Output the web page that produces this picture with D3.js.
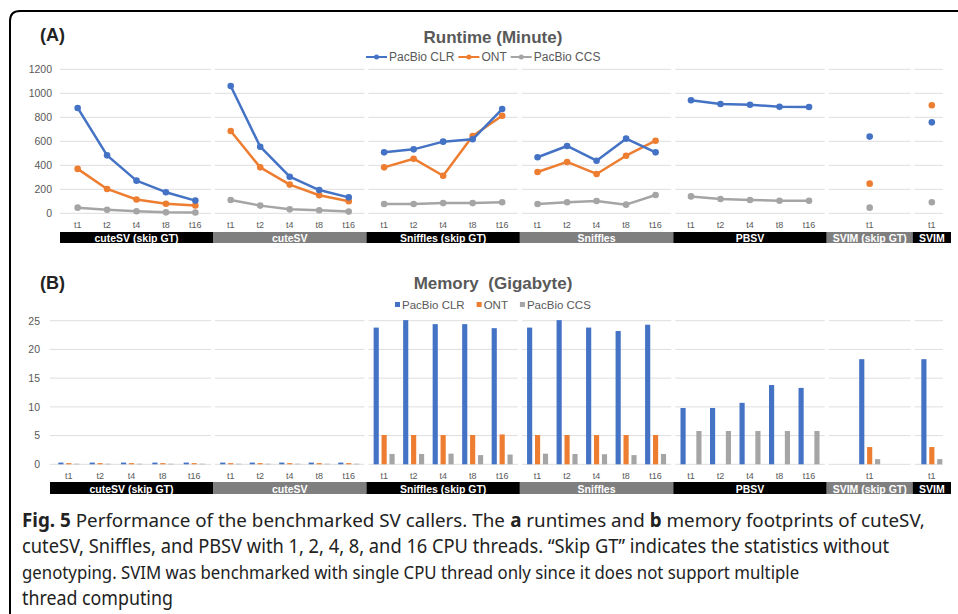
<!DOCTYPE html>
<html>
<head>
<meta charset="UTF-8">
<script src="https://cdn.jsdelivr.net/npm/d3@7"></script>
<style>
  body { margin: 0; background: #fff; }
  svg text { font-family: "Liberation Sans", Arial, sans-serif; }
  .caption text { font-family: "Noto Sans", sans-serif; fill: #222; }
</style>
</head>
<body>
<svg id="chart" width="958" height="614"></svg>
<script>
// categories
var groups = ["cuteSV (skip GT)", "cuteSV", "Sniffles (skip GT)", "Sniffles", "PBSV", "SVIM (skip GT)", "SVIM"];
var threads = [
  ["t1", "t2", "t4", "t8", "t16"],
  ["t1", "t2", "t4", "t8", "t16"],
  ["t1", "t2", "t4", "t8", "t16"],
  ["t1", "t2", "t4", "t8", "t16"],
  ["t1", "t2", "t4", "t8", "t16"],
  ["t1"],
  ["t1"]
];
var seriesNames = ["PacBio CLR", "ONT", "PacBio CCS"];

// runtime in minutes (null = not run)
var runtimeCLR = [[878, 483, 272, 176, 106], [1061, 555, 305, 194, 133], [508, 533, 597, 617, 869], [467, 561, 438, 622, 508], [942, 911, 905, 888, 886], [639], [758]];
var runtimeONT = [[370, 203, 115, 79, 65], [686, 383, 239, 150, 100], [383, 455, 313, 644, 813], [344, 428, 328, 480, 605], [null, null, null, null, null], [247], [900]];
var runtimeCCS = [[47, 30, 17, 8, 7], [111, 64, 33, 25, 14], [78, 78, 85, 85, 92], [78, 92, 103, 72, 153], [141, 119, 111, 105, 105], [47], [92]];

// memory in gigabytes
var memoryCLR = [[0.3, 0.3, 0.3, 0.3, 0.3], [0.3, 0.3, 0.3, 0.3, 0.3], [23.8, 25.1, 24.4, 24.4, 23.7], [23.8, 25.1, 23.8, 23.2, 24.3], [9.8, 9.8, 10.7, 13.8, 13.3], [18.3], [18.3]];
var memoryONT = [[0.2, 0.2, 0.2, 0.2, 0.2], [0.2, 0.2, 0.2, 0.2, 0.2], [5.1, 5.1, 5.1, 5.1, 5.2], [5.1, 5.1, 5.1, 5.1, 5.1], [null, null, null, null, null], [3.0], [3.0]];
var memoryCCS = [[0.1, 0.1, 0.1, 0.1, 0.1], [0.1, 0.1, 0.1, 0.1, 0.1], [1.8, 1.8, 1.85, 1.6, 1.7], [1.85, 1.8, 1.75, 1.6, 1.8], [5.8, 5.8, 5.8, 5.8, 5.8], [0.9], [0.9]];

var runtimeTicks = [0, 200, 400, 600, 800, 1000, 1200];
var memoryTicks = [0, 5, 10, 15, 20, 25];

var colors = {"PacBio CLR": "#4472C4", "ONT": "#ED7D31", "PacBio CCS": "#A5A5A5"};
var groupWeights = [5, 5, 5, 5, 5, 2.8, 1.25];
var groupFill = ["#000", "#7f7f7f", "#000", "#7f7f7f", "#000", "#7f7f7f", "#000"];

var svg = d3.select("#chart");

// outer frame with rounded top-left corner
svg.append("path")
  .attr("d", "M10,620 L10,21 Q10,11 20,11 L960,11")
  .attr("fill", "none").attr("stroke", "#000").attr("stroke-width", 2);

// edges of each group, the first group starts where the y axis ends
function groupEdges(left) {
  var rest = groupWeights.slice(1);
  var x = d3.scaleLinear().domain([0, d3.sum(rest)]).range([213, 951]);
  var edges = [left, 213], acc = 0;
  rest.forEach(function(w) { acc += w; edges.push(x(acc)); });
  return edges;
}

function pointScales(edges) {
  return groups.map(function(g, i) {
    return d3.scalePoint().domain(threads[i]).range([edges[i], edges[i + 1]]).padding(0.6);
  });
}

function drawFrame(opt) {
  var g = svg.append("g");
  var edges = opt.edges;

  // gridlines per group
  groups.forEach(function(name, i) {
    g.selectAll(null).data(opt.ticks).enter().append("line")
      .attr("x1", edges[i] + (i ? 2 : 0)).attr("x2", edges[i + 1] - (i === groups.length - 1 ? 8 : 2))
      .attr("y1", function(d) { return opt.y(d); }).attr("y2", function(d) { return opt.y(d); })
      .attr("stroke", "#dedede").attr("stroke-width", 1);
  });

  // y axis labels
  var ax = g.append("g")
    .attr("transform", "translate(" + opt.axisX + ",0)")
    .call(d3.axisLeft(opt.y).tickValues(opt.ticks).tickFormat(d3.format("d")).tickSize(0).tickPadding(3));
  ax.select(".domain").remove();
  ax.selectAll("text").attr("font-size", 10.5).attr("fill", "#595959")
    .attr("font-family", "Liberation Sans, Arial, sans-serif");

  // thread labels
  groups.forEach(function(name, i) {
    g.selectAll(null).data(threads[i]).enter().append("text")
      .attr("x", function(t) { return opt.px[i](t); })
      .attr("y", opt.tickY)
      .attr("text-anchor", "middle").attr("dominant-baseline", "central")
      .attr("font-size", 9).attr("fill", "#595959")
      .text(function(t) { return t; });
  });

  // group label bars
  groups.forEach(function(name, i) {
    g.append("rect")
      .attr("x", edges[i]).attr("y", opt.barY)
      .attr("width", edges[i + 1] - edges[i]).attr("height", opt.barH)
      .attr("fill", groupFill[i]);
    g.append("text")
      .attr("x", (edges[i] + edges[i + 1]) / 2).attr("y", opt.barY + opt.barH / 2 + 0.5)
      .attr("text-anchor", "middle").attr("dominant-baseline", "central")
      .attr("font-size", 10.5).attr("font-weight", "bold").attr("fill", "#fff")
      .text(name);
  });

  // titles
  svg.append("text").attr("x", 40).attr("y", opt.labelY)
    .attr("font-size", 18).attr("font-weight", "bold").attr("fill", "#222")
    .text(opt.label);
  svg.append("text").attr("x", 493).attr("y", opt.titleY)
    .attr("text-anchor", "middle").attr("font-size", 17).attr("font-weight", "bold")
    .attr("fill", "#595959").style("white-space", "pre")
    .text(opt.title);
}

// ---- (A) runtime ----
var yTop = d3.scaleLinear().domain([0, 1200]).range([213.3, 69.3]);
var edgesTop = groupEdges(60);
var pxTop = pointScales(edgesTop);

drawFrame({edges: edgesTop, px: pxTop, y: yTop, ticks: runtimeTicks, axisX: 55,
  tickY: 225, barY: 232, barH: 11, label: "(A)", labelY: 41,
  title: "Runtime (Minute)", titleY: 43});

var runtime = [runtimeCLR, runtimeONT, runtimeCCS];
var lineGen = d3.line().x(function(d) { return d.x; }).y(function(d) { return d.y; });

[2, 1, 0].forEach(function(s) {
  var col = colors[seriesNames[s]];
  groups.forEach(function(name, i) {
    var pts = threads[i].map(function(t, k) {
      return {t: t, v: runtime[s][i][k]};
    }).filter(function(d) { return d.v != null; })
      .map(function(d) { return {x: pxTop[i](d.t), y: yTop(d.v)}; });
    if (pts.length > 1) {
      svg.append("path").datum(pts).attr("d", lineGen)
        .attr("fill", "none").attr("stroke", col).attr("stroke-width", 2.5)
        .attr("stroke-linejoin", "round");
    }
    svg.selectAll(null).data(pts).enter().append("circle")
      .attr("cx", function(d) { return d.x; }).attr("cy", function(d) { return d.y; })
      .attr("r", 3.3).attr("fill", col);
  });
});

// legend (A)
var legA = svg.append("g").attr("transform", "translate(366,57)");
var lx = 0;
seriesNames.forEach(function(n) {
  var it = legA.append("g").attr("transform", "translate(" + lx + ",0)");
  it.append("line").attr("x1", 0).attr("x2", 21).attr("stroke", colors[n]).attr("stroke-width", 2);
  it.append("circle").attr("cx", 10.5).attr("r", 2.5).attr("fill", colors[n]);
  var t = it.append("text").attr("x", 23).attr("dominant-baseline", "central")
    .attr("font-size", 12).attr("fill", "#595959").text(n);
  lx += 23 + t.node().getComputedTextLength() + 4;
});

// ---- (B) memory ----
var yBot = d3.scaleLinear().domain([0, 25]).range([464.3, 320.7]);
var edgesBot = groupEdges(50);
var pxBot = pointScales(edgesBot);

drawFrame({edges: edgesBot, px: pxBot, y: yBot, ticks: memoryTicks, axisX: 43,
  tickY: 476, barY: 482, barH: 12, label: "(B)", labelY: 289,
  title: "Memory  (Gigabyte)", titleY: 289});

var memory = [memoryCLR, memoryONT, memoryCCS];
var inner = d3.scaleBand().domain(seriesNames).range([-10.5, 10.5]).paddingInner(0.35);

seriesNames.forEach(function(n, s) {
  groups.forEach(function(name, i) {
    var bars = threads[i].map(function(t, k) { return {t: t, v: memory[s][i][k]}; })
      .filter(function(d) { return d.v != null; });
    svg.selectAll(null).data(bars).enter().append("rect")
      .attr("x", function(d) { return pxBot[i](d.t) + inner(n); })
      .attr("width", inner.bandwidth())
      .attr("y", function(d) { return yBot(d.v); })
      .attr("height", function(d) { return yBot(0) - yBot(d.v); })
      .attr("fill", colors[n]);
  });
});

// legend (B)
var legB = svg.append("g").attr("transform", "translate(395,304.5)");
lx = 0;
seriesNames.forEach(function(n) {
  var it = legB.append("g").attr("transform", "translate(" + lx + ",0)");
  it.append("rect").attr("x", 0).attr("y", -2.5).attr("width", 5).attr("height", 5).attr("fill", colors[n]);
  var t = it.append("text").attr("x", 7).attr("dominant-baseline", "central")
    .attr("font-size", 11.5).attr("fill", "#595959").text(n);
  lx += 7 + t.node().getComputedTextLength() + 12;
});

// ---- caption ----
// each line is squeezed horizontally to the width it has in the figure
var caption = [
  {len: 903, parts: [["Fig. 5", true], [" Performance of the benchmarked SV callers. The ", false], ["a", true], [" runtimes and ", false], ["b", true], [" memory footprints of cuteSV,", false]]},
  {len: 868, parts: [["cuteSV, Sniffles, and PBSV with 1, 2, 4, 8, and 16 CPU threads. \u201cSkip GT\u201d indicates the statistics without", false]]},
  {len: 778, parts: [["genotyping. SVIM was benchmarked with single CPU thread only since it does not support multiple", false]]},
  {len: 151, parts: [["thread computing", false]]}
];
var cap = svg.append("g").attr("class", "caption");
caption.forEach(function(line, i) {
  var lg = cap.append("g");
  var acc = 0;
  line.parts.forEach(function(p) {
    var t = lg.append("text").attr("x", acc).attr("y", 0)
      .attr("font-size", 19).attr("font-weight", p[1] ? "bold" : "normal")
      .style("white-space", "pre").text(p[0]);
    acc += t.node().getComputedTextLength();
  });
  lg.attr("transform", "translate(22," + (527 + i * 26) + ") scale(" + (line.len / acc) + ",1)");
});
</script>
</body>
</html>
